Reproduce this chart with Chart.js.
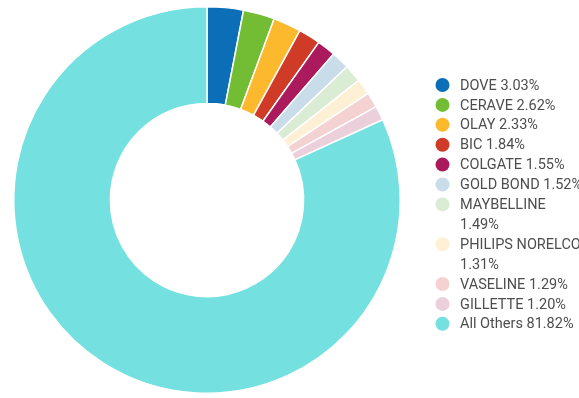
<!DOCTYPE html>
<html>
<head>
<meta charset="utf-8">
<script src="https://cdn.jsdelivr.net/npm/chart.js@4"></script>
<style>
  html, body { margin: 0; padding: 0; background: #fff; overflow: hidden; }
  #wrap { position: relative; width: 579px; height: 398px; }
</style>
</head>
<body>
<div id="wrap"><canvas id="myChart"></canvas></div>
<script>
let brand_labels = ['DOVE', 'CERAVE', 'OLAY', 'BIC', 'COLGATE', 'GOLD BOND',
    'MAYBELLINE', 'PHILIPS NORELCO', 'VASELINE', 'GILLETTE', 'All Others'];
let share_values = [3.03, 2.62, 2.33, 1.84, 1.55, 1.52, 1.49, 1.31, 1.29, 1.20, 81.82];
let slice_colors = ['#0b6eb6', '#72bd33', '#fdb92e', '#cf3b26', '#ab1a5c', '#c8dcea',
    '#dbecd5', '#fdf0d4', '#f4d2d2', '#ebcfdb', '#74e1e0'];
// these names push the percentage onto a second legend line
let wrapped_labels = ['MAYBELLINE', 'PHILIPS NORELCO'];

// legend drawn by hand so it can wrap and run off the right edge like the original
const sideLegend = {
    id: 'sideLegend',
    afterDraw(chart) {
        const ctx = chart.ctx;
        let y = 85;
        ctx.save();
        ctx.font = '14.5px Roboto';
        ctx.textBaseline = 'middle';
        brand_labels.forEach((name, i) => {
            const pct = share_values[i].toFixed(2) + '%';
            const lines = wrapped_labels.includes(name) ? [name, pct] : [name + ' ' + pct];
            ctx.fillStyle = slice_colors[i];
            ctx.beginPath();
            ctx.arc(442.5, y, 7, 0, Math.PI * 2);
            ctx.fill();
            ctx.fillStyle = '#4d4d4d';
            lines.forEach(line => {
                ctx.fillText(line, 460, y + 1);
                y += 19.9;
            });
        });
        ctx.restore();
    }
};

const ctx = document.getElementById('myChart').getContext('2d');
const myChart = new Chart(ctx, {
    type: 'doughnut',
    data: {
        labels: brand_labels,
        datasets: [{
            data: share_values,
            backgroundColor: slice_colors,
            borderColor: '#fff',
            borderWidth: 1.5
        }]
    },
    options: {
        responsive: true,
        maintainAspectRatio: false,
        animation: false,
        cutout: '50%',
        layout: { padding: { left: 13, top: 6, right: 178, bottom: 4 } },
        plugins: {
            legend: { display: false },
            tooltip: { enabled: false }
        }
    },
    plugins: [sideLegend]
});
</script>
</body>
</html>
